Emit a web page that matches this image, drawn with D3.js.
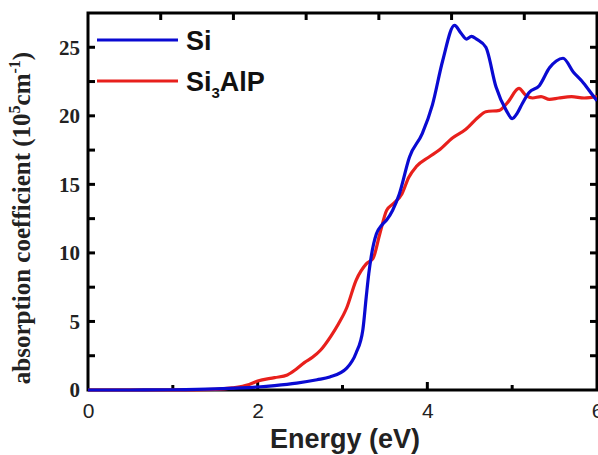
<!DOCTYPE html>
<html>
<head>
<meta charset="utf-8">
<script src="https://cdn.jsdelivr.net/npm/d3@7"></script>
<style>
  body { margin: 0; background: #fff; }
  svg { display: block; }
</style>
</head>
<body>
<div id="chart"></div>
<script>
// values
const siEnergy = [0, 0.5, 1, 1.5, 1.8, 2, 2.2, 2.46, 2.7, 2.85, 3.05, 3.16, 3.24, 3.28, 3.31, 3.34, 3.4, 3.46, 3.52, 3.59, 3.67, 3.79, 3.94, 4.06, 4.18, 4.32, 4.4, 4.46, 4.52, 4.58, 4.69, 4.81, 4.93, 5.0, 5.06, 5.12, 5.2, 5.32, 5.44, 5.52, 5.6, 5.72, 5.84, 5.95, 6.0];
const siAbs = [0, 0, 0.02, 0.08, 0.15, 0.22, 0.32, 0.5, 0.75, 0.95, 1.6, 2.7, 4.4, 6.8, 8.5, 9.8, 11.4, 12.0, 12.4, 13.1, 14.3, 17, 18.7, 20.8, 24, 26.6, 26.0, 25.6, 25.8, 25.6, 25.0, 22.1, 20.4, 19.8, 20.2, 20.9, 21.7, 22.2, 23.5, 24.0, 24.2, 23.2, 22.4, 21.5, 21.1];

const alpEnergy = [0, 0.5, 1, 1.5, 1.7, 1.9, 2.0, 2.2, 2.35, 2.45, 2.55, 2.65, 2.74, 2.86, 2.95, 3.05, 3.16, 3.28, 3.36, 3.44, 3.52, 3.6, 3.7, 3.78, 3.87, 4.02, 4.14, 4.3, 4.45, 4.6, 4.69, 4.85, 4.95, 5.08, 5.16, 5.24, 5.34, 5.44, 5.55, 5.7, 5.85, 6.0];
const alpAbs = [0, 0, 0, 0.05, 0.15, 0.4, 0.65, 0.9, 1.1, 1.5, 2.0, 2.4, 2.9, 3.9, 4.8, 6.0, 8.0, 9.2, 9.6, 11.4, 13.1, 13.6, 14.3, 15.5, 16.3, 17.0, 17.5, 18.4, 19.0, 19.9, 20.3, 20.4, 21.0, 22.0, 21.5, 21.3, 21.4, 21.2, 21.3, 21.4, 21.3, 21.4];

const xTicks = [0, 2, 4, 6];
const xMinor = [1, 3, 5];
const yTicks = [0, 5, 10, 15, 20, 25];
const yMinor = [2.5, 7.5, 12.5, 17.5, 22.5];

const W = 598, H = 455;
const margin = { top: 13, right: 1, bottom: 65, left: 88 };

const svg = d3.select("#chart").append("svg")
  .attr("width", W).attr("height", H);

const x = d3.scaleLinear().domain([0, 6]).range([margin.left, W - margin.right]);
const y = d3.scaleLinear().domain([0, 27.5]).range([H - margin.bottom, margin.top]);

const series = [
  { name: "Si", color: "#0a0ad2", pts: siEnergy.map((e, i) => [e, siAbs[i]]) },
  { name: "Si3AlP", color: "#e8201c", pts: alpEnergy.map((e, i) => [e, alpAbs[i]]) }
];

const line = d3.line()
  .curve(d3.curveMonotoneX)
  .x(d => x(d[0]))
  .y(d => y(d[1]));

// frame
const frame = svg.append("g");
frame.append("rect")
  .attr("x", x(0)).attr("y", y(27.5))
  .attr("width", x(6) - x(0)).attr("height", y(0) - y(27.5))
  .attr("fill", "none").attr("stroke", "#000").attr("stroke-width", 3);

// inward ticks, drawn from the scales
function tick(g, data, x1, y1, x2, y2) {
  g.append("g")
    .selectAll("line").data(data).join("line")
    .attr("x1", x1).attr("y1", y1).attr("x2", x2).attr("y2", y2)
    .attr("stroke", "#000").attr("stroke-width", 3);
}

tick(frame, [2, 4], d => x(d), y(0), d => x(d), y(0) - 8);
tick(frame, xMinor, d => x(d), y(0), d => x(d), y(0) - 5);
tick(frame, yTicks.slice(1).concat(yMinor), x(0), d => y(d), x(0) + 7, d => y(d));
tick(frame, yTicks.slice(1).concat(yMinor), x(6), d => y(d), x(6) - 7, d => y(d));
// top axis in the source has 7 divisions
tick(frame, d3.range(1, 7).map(i => i * 6 / 7), d => x(d), y(27.5), d => x(d), y(27.5) + 7);

// tick labels through the axes
svg.append("g")
  .attr("transform", `translate(0,${y(0)})`)
  .call(d3.axisBottom(x).tickValues(xTicks).tickSize(0).tickPadding(13).tickFormat(d3.format("d")))
  .call(g => g.select(".domain").remove())
  .call(g => g.selectAll(".tick text")
    .attr("font-family", "Liberation Sans, Arial, sans-serif")
    .attr("font-size", 21).attr("fill", "#222"));
svg.append("g")
  .attr("transform", `translate(${x(0)},0)`)
  .call(d3.axisLeft(y).tickValues(yTicks).tickSize(0).tickPadding(8))
  .call(g => g.select(".domain").remove())
  .call(g => g.selectAll(".tick text")
    .attr("font-family", "Liberation Serif, Times New Roman, serif")
    .attr("font-weight", "bold")
    .attr("font-size", 21).attr("fill", "#222"));

// curves on top of the frame, red first so blue lies above
svg.append("defs").append("clipPath").attr("id", "clip")
  .append("rect")
  .attr("x", margin.left).attr("y", 0)
  .attr("width", W - margin.right - margin.left)
  .attr("height", H);

svg.append("g").attr("clip-path", "url(#clip)")
  .selectAll("path")
  .data(series.slice().reverse())
  .join("path")
  .attr("fill", "none")
  .attr("stroke", d => d.color)
  .attr("stroke-width", 3.2)
  .attr("stroke-linejoin", "round")
  .attr("d", d => line(d.pts));

// axis titles
svg.append("text")
  .attr("x", 345).attr("y", 448)
  .attr("text-anchor", "middle")
  .attr("font-family", "Liberation Sans, Arial, sans-serif")
  .attr("font-weight", "bold").attr("font-size", 27).attr("fill", "#222")
  .text("Energy (eV)");

const yt = svg.append("text")
  .attr("transform", `translate(30,218) rotate(-90)`)
  .attr("text-anchor", "middle")
  .attr("font-family", "Liberation Serif, Times New Roman, serif")
  .attr("font-weight", "bold").attr("font-size", 25).attr("fill", "#222");
yt.append("tspan").text("absorption coefficient (10");
yt.append("tspan").attr("dy", -10).attr("font-size", 16).text("5");
yt.append("tspan").attr("dy", 10).text("cm");
yt.append("tspan").attr("dy", -10).attr("font-size", 16).text("-1");
yt.append("tspan").attr("dy", 10).text(")");

// legend
const legend = svg.append("g").attr("transform", "translate(97,40)");
const rows = legend.selectAll("g").data(series).join("g")
  .attr("transform", (d, i) => `translate(0,${i * 41})`);
rows.append("line")
  .attr("x1", 0).attr("x2", 81)
  .attr("stroke", d => d.color).attr("stroke-width", 3.2);
const lt = rows.append("text")
  .attr("x", 89).attr("y", 10)
  .attr("font-family", "Liberation Sans, Arial, sans-serif")
  .attr("font-weight", "bold").attr("font-size", 27).attr("fill", "#111");
lt.each(function (d) {
  const t = d3.select(this);
  if (d.name === "Si") { t.text("Si"); return; }
  t.append("tspan").text("Si");
  t.append("tspan").attr("dy", 7).attr("font-size", 15).text("3");
  t.append("tspan").attr("dy", -7).text("AlP");
});
</script>
</body>
</html>
